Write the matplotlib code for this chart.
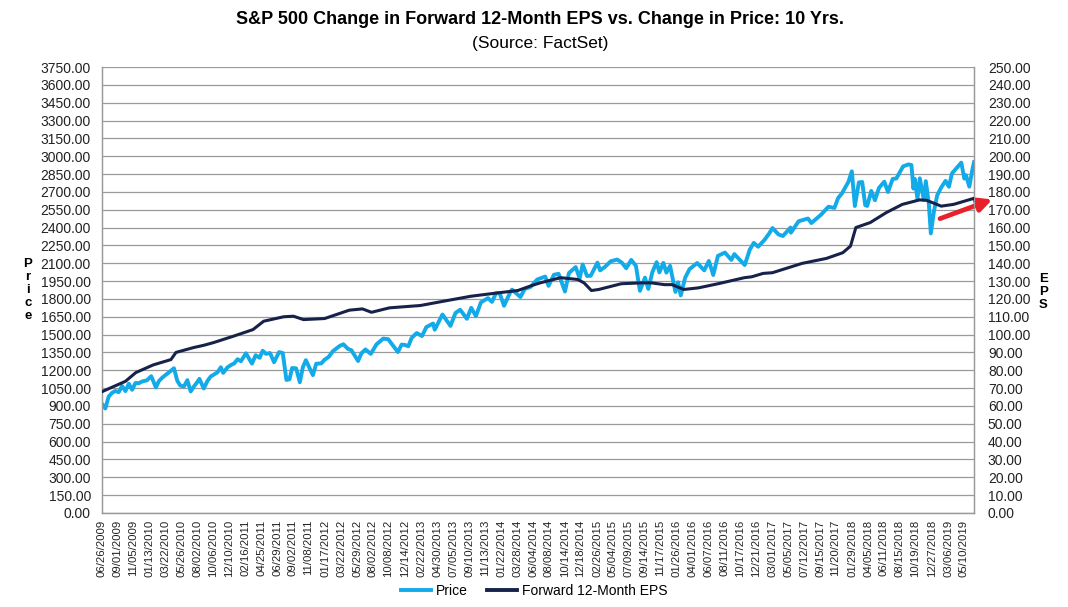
import numpy as np
import matplotlib.pyplot as plt
from matplotlib.lines import Line2D

plt.rcParams['font.family'] = ['Liberation Sans', 'DejaVu Sans']

# S&P 500 price
price_dates = [
    "2009-06-26", "2009-07-10", "2009-07-24", "2009-08-07", "2009-08-21", "2009-09-04", "2009-09-18",
    "2009-10-02", "2009-10-16", "2009-10-30", "2009-11-13", "2009-11-27", "2009-12-11", "2009-12-31",
    "2010-01-19", "2010-02-08", "2010-02-19", "2010-03-05", "2010-03-19", "2010-04-09", "2010-04-23",
    "2010-05-07", "2010-05-20", "2010-06-04", "2010-06-18", "2010-07-02", "2010-07-16", "2010-07-30",
    "2010-08-09", "2010-08-26", "2010-09-10", "2010-09-24", "2010-10-08", "2010-10-22", "2010-11-05",
    "2010-11-16", "2010-12-03", "2010-12-17", "2010-12-31",
    "2011-01-14", "2011-01-28", "2011-02-18", "2011-03-16", "2011-03-31", "2011-04-18", "2011-04-29",
    "2011-05-13", "2011-05-31", "2011-06-16", "2011-07-07", "2011-07-22", "2011-08-08", "2011-08-19",
    "2011-08-31", "2011-09-16", "2011-10-03", "2011-10-14", "2011-10-27", "2011-11-25", "2011-12-09",
    "2011-12-30",
    "2012-01-13", "2012-01-31", "2012-02-17", "2012-03-16", "2012-04-02", "2012-04-20", "2012-05-04",
    "2012-06-01", "2012-06-15", "2012-07-03", "2012-07-25", "2012-08-17", "2012-09-14", "2012-10-05",
    "2012-11-15", "2012-11-30", "2012-12-14", "2012-12-28",
    "2013-01-11", "2013-02-01", "2013-02-25", "2013-03-14", "2013-04-11", "2013-04-18", "2013-05-21",
    "2013-06-24", "2013-07-15", "2013-08-02", "2013-08-30", "2013-09-18", "2013-10-08", "2013-10-29",
    "2013-11-27", "2013-12-13", "2013-12-31",
    "2014-01-15", "2014-02-03", "2014-02-28", "2014-03-07", "2014-04-11", "2014-04-30", "2014-05-23",
    "2014-06-20", "2014-07-24", "2014-08-07", "2014-08-29", "2014-09-18", "2014-10-15", "2014-10-31",
    "2014-11-28", "2014-12-16", "2014-12-29",
    "2015-01-15", "2015-01-30", "2015-02-27", "2015-03-11", "2015-03-31", "2015-04-24", "2015-05-21",
    "2015-06-10", "2015-06-29", "2015-07-20", "2015-08-07", "2015-08-25", "2015-09-15", "2015-09-29",
    "2015-10-15", "2015-11-03", "2015-11-13", "2015-12-01", "2015-12-14", "2015-12-29",
    "2016-01-20", "2016-02-01", "2016-02-11", "2016-03-01", "2016-03-18", "2016-04-20", "2016-05-19",
    "2016-06-08", "2016-06-27", "2016-07-15", "2016-08-15", "2016-09-09", "2016-09-22", "2016-10-13",
    "2016-11-04", "2016-11-25", "2016-12-13", "2016-12-30",
    "2017-01-26", "2017-02-15", "2017-03-01", "2017-03-27", "2017-04-13", "2017-05-16", "2017-05-17",
    "2017-06-19", "2017-07-27", "2017-08-10", "2017-09-20", "2017-10-20", "2017-11-15", "2017-11-30",
    "2017-12-18",
    "2018-01-12", "2018-01-26", "2018-02-08", "2018-02-26", "2018-03-12", "2018-03-23", "2018-04-02",
    "2018-04-18", "2018-05-03", "2018-05-21", "2018-06-12", "2018-06-27", "2018-07-17", "2018-08-01",
    "2018-08-29", "2018-09-20", "2018-10-03", "2018-10-11", "2018-10-17", "2018-10-29", "2018-11-07",
    "2018-11-23", "2018-12-03", "2018-12-14", "2018-12-24",
    "2019-01-04", "2019-01-18", "2019-02-05", "2019-02-22", "2019-03-08", "2019-03-21", "2019-04-12",
    "2019-04-30", "2019-05-13", "2019-05-20", "2019-06-03", "2019-06-14", "2019-06-21",
]
price_values = [
    918, 879, 979, 1010, 1026, 1016, 1068,
    1025, 1087, 1036, 1093, 1091, 1106, 1115,
    1150, 1056, 1109, 1138, 1160, 1194, 1217,
    1111, 1071, 1064, 1117, 1022, 1065, 1102,
    1128, 1047, 1110, 1148, 1166, 1183, 1225,
    1178, 1225, 1244, 1258,
    1293, 1276, 1343, 1256, 1326, 1305, 1364,
    1338, 1345, 1268, 1353, 1345, 1119, 1124,
    1219, 1216, 1099, 1225, 1285, 1159, 1255,
    1258,
    1289, 1312, 1361, 1404, 1419, 1379, 1369,
    1278, 1343, 1375, 1338, 1418, 1466, 1461,
    1353, 1416, 1413, 1402,
    1472, 1513, 1488, 1563, 1593, 1541, 1669,
    1573, 1682, 1709, 1633, 1725, 1655, 1771,
    1807, 1775, 1848,
    1848, 1742, 1859, 1878, 1816, 1884, 1900,
    1963, 1988, 1910, 2003, 2011, 1862, 2018,
    2068, 1972, 2090,
    1992, 1995, 2105, 2040, 2068, 2117, 2131,
    2105, 2058, 2128, 2078, 1868, 1979, 1884,
    2024, 2109, 2023, 2103, 2021, 2078,
    1859, 1940, 1829, 1978, 2050, 2102, 2040,
    2119, 2001, 2162, 2190, 2128, 2177, 2133,
    2085, 2213, 2271, 2239,
    2296, 2350, 2396, 2342, 2329, 2400, 2357,
    2453, 2476, 2438, 2508, 2575, 2565, 2648,
    2690,
    2786, 2873, 2581, 2780, 2783, 2588, 2582,
    2708, 2630, 2733, 2786, 2699, 2809, 2813,
    2914, 2931, 2926, 2728, 2810, 2641, 2814,
    2633, 2790, 2600, 2351,
    2532, 2671, 2737, 2793, 2743, 2855, 2907,
    2946, 2812, 2840, 2744, 2886, 2950,
]

# Forward 12-month EPS
eps_dates = [
    "2009-06-26", "2009-10-02", "2009-11-16", "2010-01-27", "2010-04-12", "2010-05-03", "2010-07-14",
    "2010-08-26", "2010-10-06", "2010-12-27", "2011-03-21", "2011-05-04", "2011-07-27", "2011-09-06",
    "2011-10-18", "2012-01-13", "2012-04-26", "2012-06-20", "2012-07-27", "2012-10-11", "2013-02-18",
    "2013-05-24", "2013-09-17", "2014-01-08", "2014-04-01", "2014-05-29", "2014-07-03", "2014-09-26",
    "2014-12-08", "2015-01-02", "2015-02-03", "2015-03-05", "2015-06-08", "2015-09-01", "2015-10-12",
    "2015-12-04", "2016-01-06", "2016-02-24", "2016-04-26", "2016-07-22", "2016-11-03", "2016-12-05",
    "2017-01-20", "2017-03-01", "2017-07-03", "2017-10-12", "2017-12-20", "2018-01-22", "2018-02-13",
    "2018-04-13", "2018-06-20", "2018-08-27", "2018-11-06", "2018-12-05", "2019-02-05", "2019-03-28",
    "2019-06-21",
]
eps_values = [
    68.0, 73.8, 78.7, 83.0, 86.0, 90.0, 92.7,
    94.0, 95.5, 99.0, 102.8, 107.5, 110.0, 110.3,
    108.4, 109.0, 113.7, 114.4, 112.5, 115.0, 116.3,
    118.7, 121.5, 123.4, 124.7, 127.5, 129.0, 131.9,
    130.9, 129.0, 124.7, 125.3, 128.5, 129.0, 129.0,
    128.0, 128.0, 125.3, 126.2, 128.7, 131.9, 132.4,
    134.3, 134.7, 139.9, 142.7, 145.9, 149.6, 160.0,
    162.8, 168.4, 173.0, 175.5, 175.3, 172.0, 173.0,
    176.4,
]

tick_dates = [
    "2009-06-26", "2009-09-01", "2009-11-05", "2010-01-13", "2010-03-22", "2010-05-26", "2010-08-02",
    "2010-10-06", "2010-12-10", "2011-02-16", "2011-04-25", "2011-06-29", "2011-09-02", "2011-11-08",
    "2012-01-17", "2012-03-22", "2012-05-29", "2012-08-02", "2012-10-08", "2012-12-14", "2013-02-22",
    "2013-04-30", "2013-07-05", "2013-09-10", "2013-11-13", "2014-01-22", "2014-03-28", "2014-06-04",
    "2014-08-08", "2014-10-14", "2014-12-18", "2015-02-26", "2015-05-04", "2015-07-09", "2015-09-14",
    "2015-11-17", "2016-01-26", "2016-04-01", "2016-06-07", "2016-08-11", "2016-10-17", "2016-12-21",
    "2017-03-01", "2017-05-05", "2017-07-12", "2017-09-15", "2017-11-20", "2018-01-29", "2018-04-05",
    "2018-06-11", "2018-08-15", "2018-10-19", "2018-12-27", "2019-03-06", "2019-05-10",
]

price_color = "#12AAE8"
eps_color = "#17224A"
grid_color = "#9A9A9A"

start = np.datetime64(price_dates[0])


def trading_day(dates):
    # position on the category axis = number of trading days since the first date
    return np.busday_count(start, np.array(dates, dtype="datetime64[D]"))


px = trading_day(price_dates)
ex = trading_day(eps_dates)
tx = trading_day(tick_dates)
tick_labels = [f"{d[5:7]}/{d[8:10]}/{d[0:4]}" for d in tick_dates]

fig = plt.figure(figsize=(10.68, 6.07), dpi=100)
ax = fig.add_axes([0.0955, 0.1549, 0.8165, 0.7347])
ax2 = ax.twinx()

ax.plot(px, price_values, color=price_color, lw=2.8, solid_joinstyle="round", zorder=3)
ax2.plot(ex, eps_values, color=eps_color, lw=2.2, solid_joinstyle="round", zorder=3)

ax.set_xlim(0, px[-1])
ax.set_ylim(0, 3750)
ax2.set_ylim(0, 250)
ax.set_yticks(np.arange(0, 3751, 150))
ax2.set_yticks(np.arange(0, 251, 10))
ax.set_yticklabels([f"{v:.2f}" for v in np.arange(0, 3751, 150)])
ax2.set_yticklabels([f"{v:.2f}" for v in np.arange(0, 251, 10)])
ax.set_xticks(tx)
ax.set_xticklabels(tick_labels, rotation=90, fontsize=8.2)

ax.yaxis.grid(True, color=grid_color, lw=0.9)
ax.set_axisbelow(True)
ax.tick_params(axis="y", length=0, pad=8, labelsize=10, colors="#222222")
ax2.tick_params(axis="y", length=0, pad=10, labelsize=10, colors="#222222")
ax.tick_params(axis="x", length=0, pad=5, colors="#222222")
for a in (ax, ax2):
    for s in a.spines.values():
        s.set_color(grid_color)
        s.set_linewidth(0.9)
    a.spines["top"].set_visible(False)

fig.text(0.506, 0.968, "S&P 500 Change in Forward 12-Month EPS vs. Change in Price: 10 Yrs.",
         ha="center", va="center", fontsize=13, fontweight="bold")
fig.text(0.506, 0.928, "(Source: FactSet)", ha="center", va="center", fontsize=12.5)

fig.text(0.026, 0.522, "P\nr\ni\nc\ne", ha="center", va="center", fontsize=9.5,
         fontweight="bold", linespacing=1.12)
fig.text(0.977, 0.519, "E\nP\nS", ha="center", va="center", fontsize=9.5,
         fontweight="bold", linespacing=1.12)

# red arrow pointing at the EPS axis
ax.annotate("", xy=(1.021, 0.703), xytext=(0.961, 0.660), xycoords="axes fraction",
            textcoords="axes fraction", annotation_clip=False,
            arrowprops=dict(arrowstyle="-|>,head_length=0.8,head_width=0.4",
                            color="#E8202A", lw=3.4, shrinkA=0, shrinkB=0))

handles = [Line2D([], [], color=price_color, lw=2.8),
           Line2D([], [], color=eps_color, lw=2.8)]
fig.legend(handles, ["Price", "Forward 12-Month EPS"], loc="center",
           bbox_to_anchor=(0.5, 0.026), ncol=2, frameon=False, fontsize=10,
           handlelength=2.2, columnspacing=1.4, handletextpad=0.3)

fig.savefig("out.png", dpi=100)
